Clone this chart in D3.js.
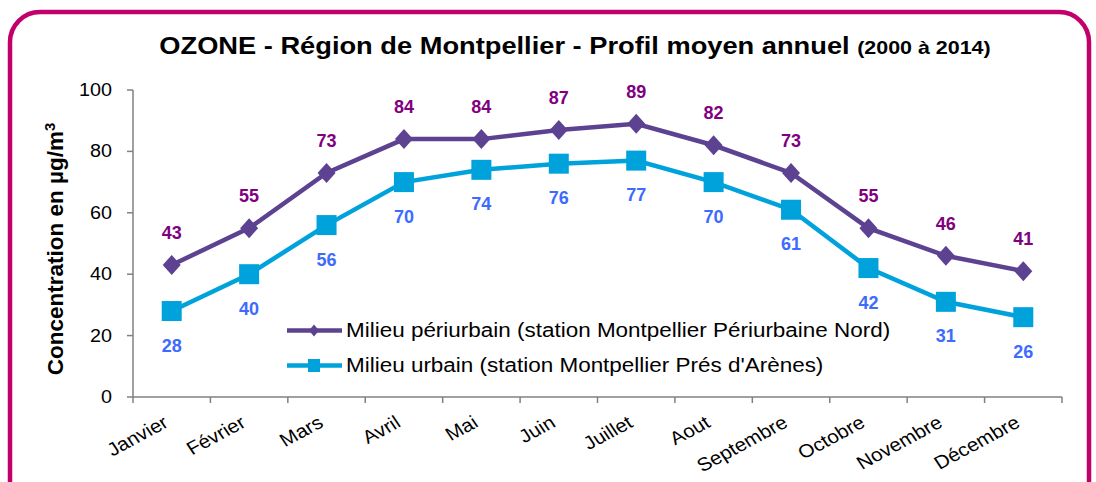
<!DOCTYPE html>
<html><head><meta charset="utf-8">
<script src="https://cdn.jsdelivr.net/npm/d3@7"></script>
<style>body{margin:0;background:#fff}svg{display:block;font-family:"Liberation Sans",Arial,sans-serif}</style>
</head><body><svg id="c" width="1096" height="482"></svg>
<script>
const months = ["Janvier","Février","Mars","Avril","Mai","Juin","Juillet","Aout","Septembre","Octobre","Novembre","Décembre"];
const periurbain = [43,55,73,84,84,87,89,82,73,55,46,41];
const urbain = [28,40,56,70,74,76,77,70,61,42,31,26];
const yTicks = [0,20,40,60,80,100];
const seriesNames = ["Milieu périurbain (station Montpellier Périurbaine Nord)","Milieu urbain (station Montpellier Prés d'Arènes)"];

const svg = d3.select("#c");
// frame
svg.append("rect").attr("x",10).attr("y",12).attr("width",1079).attr("height",520).attr("rx",30)
  .attr("fill","none").attr("stroke","#C2006B").attr("stroke-width",4.5);

// title
const t = svg.append("text").attr("transform","translate(575,54) scale(1.16,1)").attr("text-anchor","middle")
  .attr("font-weight","bold").attr("fill","#000");
t.append("tspan").attr("font-size","23.5px").text("OZONE - Région de Montpellier - Profil moyen annuel ");
t.append("tspan").attr("font-size","18.5px").text("(2000 à 2014)");

const x = d3.scaleBand().domain(months).range([133,1062]);
const y = d3.scaleLinear().domain([0,100]).range([397,90]);

const gx = svg.append("g").attr("transform","translate(0,397)");
gx.append("line").attr("x1",133).attr("x2",1062).attr("stroke","#808080").attr("stroke-width",1.5);
const edges = months.map(m=>x(m)).concat([1062]);
gx.selectAll(".tk").data(edges).join("line").attr("x1",d=>d).attr("x2",d=>d).attr("y1",0).attr("y2",6)
  .attr("stroke","#808080").attr("stroke-width",1.5);
gx.selectAll(".lb").data(months).join("text")
  .attr("transform",d=>`translate(${x(d)+x.bandwidth()/2-2},${29}) scale(1.12,1) rotate(-31)`)
  .attr("text-anchor","end").attr("font-size","18.5px").attr("fill","#000").text(d=>d);

// y axis
const gy = svg.append("g");
gy.append("line").attr("x1",133).attr("x2",133).attr("y1",y(0)).attr("y2",y(100)).attr("stroke","#808080").attr("stroke-width",1.5);
gy.selectAll(".yt").data(yTicks).join("line").attr("x1",127).attr("x2",133).attr("y1",d=>y(d)).attr("y2",d=>y(d))
  .attr("stroke","#808080").attr("stroke-width",1.5);
gy.selectAll(".yl").data(yTicks).join("text")
  .attr("transform",d=>`translate(112,${y(d)+6}) scale(1.13,1)`).attr("text-anchor","end")
  .attr("font-size","17.5px").attr("fill","#000").text(d=>d);

svg.append("text").attr("transform","translate(63,249) rotate(-90)").attr("text-anchor","middle")
  .attr("font-weight","bold").attr("font-size","22.5px").attr("fill","#000")
  .html('Concentration en µg/m<tspan baseline-shift="super" font-size="15px">3</tspan>');

const cx = d => x(d)+x.bandwidth()/2;
const line = d3.line().x((d,i)=>cx(months[i])).y(d=>y(d));

const colP = "#5C4290", colU = "#00A2DB";
svg.append("path").datum(periurbain).attr("d",line).attr("fill","none").attr("stroke",colP).attr("stroke-width",4.5);
svg.append("path").datum(urbain).attr("d",line).attr("fill","none").attr("stroke",colU).attr("stroke-width",4.5);

const diamond = (w,h) => `M0,${-h/2}L${w/2},0L0,${h/2}L${-w/2},0Z`;
svg.selectAll(".dp").data(periurbain).join("path")
  .attr("transform",(d,i)=>`translate(${cx(months[i])},${y(d)})`)
  .attr("d",diamond(18,20)).attr("fill",colP);
svg.selectAll(".sq").data(urbain).join("rect")
  .attr("x",(d,i)=>cx(months[i])-10).attr("y",d=>y(d)-10).attr("width",20).attr("height",20).attr("fill",colU);

svg.selectAll(".lp").data(periurbain).join("text")
  .attr("x",(d,i)=>cx(months[i])).attr("y",d=>y(d)-26).attr("text-anchor","middle")
  .attr("font-weight","bold").attr("font-size","18px").attr("fill","#800080").text(d=>d);
svg.selectAll(".lu").data(urbain).join("text")
  .attr("x",(d,i)=>cx(months[i])).attr("y",d=>y(d)+40.5).attr("text-anchor","middle")
  .attr("font-weight","bold").attr("font-size","18px").attr("fill","#3D6BFF").text(d=>d);

// legend
const leg = [[colP,"d"],[colU,"s"]];
leg.forEach((l,i)=>{
  const ly = 330.5 + i*35;
  svg.append("line").attr("x1",287).attr("x2",342).attr("y1",ly).attr("y2",ly).attr("stroke",l[0]).attr("stroke-width",4.5);
  if(l[1]==="d") svg.append("path").attr("transform",`translate(314,${ly})`).attr("d",diamond(10,12)).attr("fill",l[0]);
  else svg.append("rect").attr("x",308).attr("y",ly-6.5).attr("width",12).attr("height",13).attr("fill",l[0]);
  svg.append("text").attr("transform",`translate(346,${ly+6.5}) scale(1.07,1)`).attr("font-size","21px").attr("fill","#000").text(seriesNames[i]);
});
</script></body></html>
